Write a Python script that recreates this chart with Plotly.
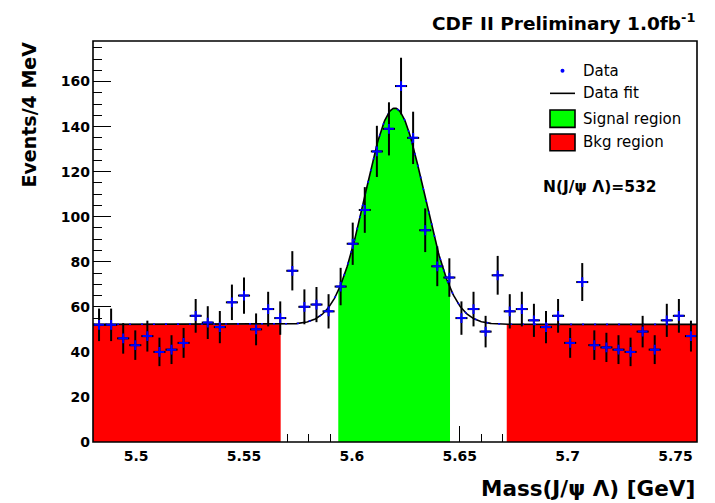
import numpy as np
import plotly.graph_objects as go

# Histogram binning of the J/psi Lambda invariant mass
x_min, x_max = 5.48, 5.76
n_bins = 50
bin_width = (x_max - x_min) / n_bins
mass = x_min + bin_width * (np.arange(n_bins) + 0.5)

# Events per bin
counts = [52, 52, 46, 43, 47, 40, 41, 44, 56, 53,
          51, 62, 65, 50, 59, 55, 76, 60, 61, 58,
          69, 88, 103, 129, 139, 158, 135, 94, 78, 73,
          55, 59, 49, 74, 58, 59, 54, 51, 56, 44,
          71, 43, 42, 41, 40, 49, 41, 54, 56, 47]
errors = np.sqrt(counts)

# Gaussian signal + flat background fit
fit_mean = 5.6199
fit_sigma = 0.0136
fit_amp = 96.0
fit_bkg = 52.2

# Mass windows
bkg_left = (5.48, 5.567)
signal_win = (5.5937, 5.6455)
bkg_right = (5.6718, 5.76)

n_sig_label = "N(J/\u03c8 \u039b)=532"

y_max = 178
x_ticks = [5.5, 5.55, 5.6, 5.65, 5.7, 5.75]
y_ticks = [0, 20, 40, 60, 80, 100, 120, 140, 160]


def fit(x):
    return fit_bkg + fit_amp * np.exp(-0.5 * ((x - fit_mean) / fit_sigma) ** 2)


def band(lo, hi):
    xs = np.linspace(lo, hi, 200)
    return xs, fit(xs)


FONT = "DejaVu Sans"
RED = "#ff0000"
GREEN = "#00ff00"
BLUE = "#0000ff"

fig = go.Figure()

for lo, hi, col in [(*bkg_left, RED), (*bkg_right, RED), (*signal_win, GREEN)]:
    bx, by = band(lo, hi)
    fig.add_trace(go.Scatter(x=bx, y=by, mode="lines", fill="tozeroy",
                             fillcolor=col, line=dict(width=0, color=col),
                             hoverinfo="skip", showlegend=False))

fx = np.linspace(x_min, x_max, 800)
fig.add_trace(go.Scatter(x=fx, y=fit(fx), mode="lines",
                         line=dict(color="black", width=1.6),
                         showlegend=False))
fig.add_trace(go.Scatter(x=fx, y=fit(fx), mode="lines",
                         line=dict(color=BLUE, width=1.6, dash="2px,10px"),
                         showlegend=False))

fig.add_trace(go.Scatter(
    x=mass, y=counts, mode="markers",
    marker=dict(symbol="cross-thin", size=7, color=BLUE,
                line=dict(color=BLUE, width=2)),
    error_y=dict(type="data", array=errors, color="black", thickness=2, width=0),
    error_x=dict(type="constant", value=bin_width / 2, color="black",
                 thickness=2, width=0),
    showlegend=False))

# Page geometry (pixels) for layout elements
L, R, T, B = 93, 697, 41, 441.7


def px(x):
    return (x - L) / (R - L)


def py(y):
    return (B - y) / (B - T)


shapes = [
    # frame
    dict(type="rect", xref="paper", yref="paper", x0=0, x1=1, y0=0, y1=1,
         line=dict(color="black", width=1.6), layer="above"),
    # legend: data marker
    dict(type="circle", xref="paper", yref="paper",
         x0=px(560.5), x1=px(564.5), y0=py(72.7), y1=py(68.7),
         fillcolor=BLUE, line=dict(width=0)),
    # legend: fit line
    dict(type="line", xref="paper", yref="paper",
         x0=px(550), x1=px(575), y0=py(93.3), y1=py(93.3),
         line=dict(color="black", width=1.6)),
    # legend: signal box
    dict(type="rect", xref="paper", yref="paper",
         x0=px(550), x1=px(575), y0=py(127.3), y1=py(110),
         fillcolor=GREEN, line=dict(color="black", width=1.6)),
    # legend: background box
    dict(type="rect", xref="paper", yref="paper",
         x0=px(550), x1=px(575), y0=py(150.7), y1=py(134),
         fillcolor=RED, line=dict(color="black", width=1.6)),
]

legend_font = dict(family=FONT, size=15, color="black")
annotations = []
for label, yy in [("Data", 70.7), ("Data fit", 93.3),
                  ("Signal region", 118.5), ("Bkg region", 142)]:
    annotations.append(dict(text=label, xref="paper", yref="paper",
                            x=px(581), y=py(yy), xanchor="left", yanchor="middle",
                            showarrow=False, font=legend_font))

annotations += [
    dict(text=n_sig_label, xref="paper", yref="paper", x=px(541), y=py(186.7),
         xanchor="left", yanchor="middle", showarrow=False,
         font=dict(family=FONT, size=15.5, color="black", weight="bold")),
    dict(text="CDF II Preliminary 1.0fb<sup>-1</sup>", xref="paper", yref="paper",
         x=1, y=py(22), xanchor="right", yanchor="middle", showarrow=False,
         font=dict(family=FONT, size=18.5, color="black", weight="bold")),
    dict(text="Events/4 MeV", xref="paper", yref="paper", x=px(28.5), y=py(40),
         xanchor="center", yanchor="top", textangle=-90, showarrow=False,
         font=dict(family=FONT, size=19, color="black", weight="bold")),
    dict(text="Mass(J/\u03c8 \u039b) [GeV]", xref="paper", yref="paper",
         x=1, y=py(488), xanchor="right", yanchor="middle", showarrow=False,
         font=dict(family=FONT, size=21.5, color="black", weight="bold")),
]

tick_font = dict(family=FONT, size=14, color="black", weight="bold")

fig.update_layout(
    width=715, height=503,
    margin=dict(l=L, r=715 - R, t=T, b=503 - B),
    paper_bgcolor="white", plot_bgcolor="white",
    shapes=shapes, annotations=annotations,
    showlegend=False,
    xaxis=dict(range=[x_min, x_max], tickvals=x_ticks,
               ticktext=[f"{v:g}" for v in x_ticks],
               ticks="inside", ticklen=16, tickwidth=1, tickcolor="black",
               minor=dict(ticks="inside", ticklen=8, dtick=0.01, tick0=5.5,
                          tickcolor="black", tickwidth=1),
               showgrid=False, zeroline=False, showline=False,
               layer="below traces", tickfont=tick_font, ticklabelstandoff=4),
    yaxis=dict(range=[0, y_max], tickvals=y_ticks,
               ticks="inside", ticklen=18, tickwidth=1, tickcolor="black",
               minor=dict(ticks="inside", ticklen=9, dtick=5, tick0=0,
                          tickcolor="black", tickwidth=1),
               showgrid=False, zeroline=False, showline=False,
               layer="below traces", tickfont=tick_font, ticklabelstandoff=2),
)

fig.write_html("out.html")
